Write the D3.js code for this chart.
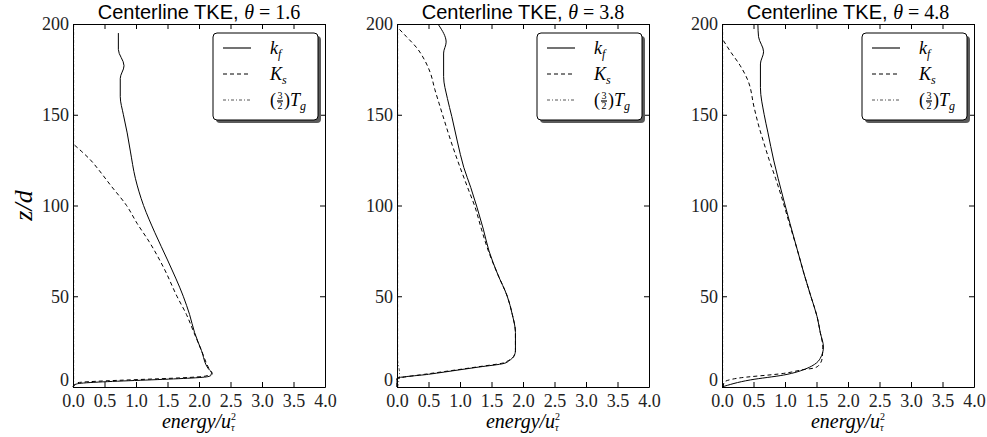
<!DOCTYPE html>
<head>
<meta charset="utf-8" />
<style>
  body { margin: 0; background: #fff; }
  svg text { font-family: 'Liberation Serif', 'Times New Roman', serif; }
</style>
</head>
<div id="div_template"></div>
<script src="https://d3js.org/d3.v7.min.js"></script>
<script>
  // values, as [energy/u_tau^2, z/d]
  const thetas = [1.6, 3.8, 4.8];
  const xTicks = [0, 0.5, 1, 1.5, 2, 2.5, 3, 3.5, 4];
  const yTicks = [0, 50, 100, 150, 200];

  const kf16 = [[0, 0], [0.06, 1.7], [2.14, 5.7], [2.19, 6.4], [2.21, 7.5], [2.15, 10], [2.04, 20], [1.93, 30],
    [1.85, 40], [1.75, 50], [1.5, 70], [1.3, 85], [1.12, 100], [0.99, 115], [0.91, 130], [0.86, 140],
    [0.8, 150], [0.75, 160], [0.75, 170], [0.81, 177], [0.72, 186], [0.72, 195]];
  const ks16 = [[0, 0], [0.05, 2.2], [2.1, 6.0], [2.2, 7.6], [2.16, 10], [2.04, 20], [1.92, 30], [1.8, 40],
    [1.65, 50], [1.45, 65], [1.21, 80], [1.02, 90], [0.85, 100], [0.6, 111], [0.4, 120], [0.28, 125],
    [0.13, 130], [0, 134]];
  const tg16 = [[0.01, 0], [0.01, 50], [0.01, 100], [0.01, 150], [0.01, 200]];

  const kf38 = [[0, 0], [0, 4.8], [0.5, 7], [1.0, 9.5], [1.3, 11], [1.7, 13], [1.78, 14.5], [1.85, 16.7],
    [1.88, 20], [1.88, 30], [1.83, 40], [1.75, 50], [1.6, 62], [1.46, 75], [1.37, 87], [1.27, 99],
    [1.17, 110], [1.06, 121], [0.96, 135], [0.87, 149], [0.8, 159], [0.74, 171], [0.74, 184],
    [0.78, 190], [0.66, 199.5]];
  const ks38 = [[0, 0], [0, 4.5], [0.05, 5], [0.5, 7.3], [1.02, 9.8], [1.3, 11.2], [1.68, 13.2], [1.77, 14.6],
    [1.85, 16.7], [1.88, 20], [1.88, 30], [1.83, 40], [1.75, 50], [1.6, 62], [1.45, 75], [1.34, 87],
    [1.24, 99], [1.12, 110], [0.97, 124], [0.86, 135], [0.75, 147], [0.67, 156], [0.6, 164], [0.53, 173],
    [0.44, 180], [0.32, 186.6], [0.15, 193], [0.04, 197]];
  const tg38 = [[0.01, 0], [0.04, 8], [0.01, 15], [0.01, 100], [0.01, 200]];

  const kf48 = [[0, 0], [0.45, 3.9], [0.98, 6.6], [1.35, 10.3], [1.47, 12.5], [1.56, 15.8], [1.61, 22],
    [1.56, 30], [1.51, 38.7], [1.41, 50], [1.3, 62.6], [1.2, 75], [1.08, 90], [0.98, 103], [0.89, 115],
    [0.82, 125], [0.73, 140], [0.67, 150], [0.61, 165], [0.61, 178], [0.66, 184.7], [0.58, 193], [0.57, 199.5]];
  const ks48 = [[0.02, 0], [0.03, 2.4], [0.24, 4.8], [0.98, 7.5], [1.3, 9.6], [1.47, 10.5], [1.55, 12.5],
    [1.59, 16], [1.6, 22], [1.56, 30], [1.51, 38.7], [1.41, 50], [1.3, 62.6], [1.2, 75], [1.07, 90],
    [0.96, 103], [0.85, 115], [0.75, 125], [0.66, 135], [0.59, 143], [0.51, 154], [0.41, 169],
    [0.29, 177], [0.13, 185], [0.02, 191]];
  const tg48 = [[0.01, 0], [0.01, 50], [0.01, 100], [0.01, 150], [0.01, 200]];

  const panels = [
    { theta: thetas[0], kf: kf16, ks: ks16, tg: tg16, left: 73, ylabel: true },
    { theta: thetas[1], kf: kf38, ks: ks38, tg: tg38, left: 397 },
    { theta: thetas[2], kf: kf48, ks: ks48, tg: tg48, left: 722 },
  ];

  var width = 987, height = 437;
  var plotW = 252, plotH = 363, plotTop = 24;
  var svg = d3.select('#div_template').append('svg')
    .attr('width', width)
    .attr('height', height);

  var xScale = d3.scaleLinear().domain([0, 4]).range([0, plotW]);
  var yScale = d3.scaleLinear().domain([0, 200]).range([plotH, 0]);

  const line = d3.line()
    .x((d) => xScale(d[0]))
    .y((d) => yScale(d[1]))
    .curve(d3.curveMonotoneY);

  const styles = {
    kf: { stroke: '#000', dash: null },
    ks: { stroke: '#000', dash: '4,3' },
    tg: { stroke: '#555', dash: '3,2,1,2' },
  };

  function styleAxis(g, labels) {
    g.select('.domain').attr('stroke', '#000');
    g.selectAll('.tick line').attr('stroke', '#000');
    g.selectAll('.tick text')
      .attr('fill', '#222')
      .attr('font-size', labels ? '18px' : 0);
  }

  function legendLabel(t, key) {
    t.attr('font-size', '18px').attr('font-style', 'italic');
    if (key === 'kf') {
      t.append('tspan').text('k');
      t.append('tspan').attr('font-size', '12px').attr('dy', 4).text('f');
    } else if (key === 'ks') {
      t.append('tspan').text('K');
      t.append('tspan').attr('font-size', '12px').attr('dy', 4).text('s');
    }
  }

  panels.forEach((p) => {
    const g = svg.append('g')
      .attr('transform', 'translate(' + p.left + ',' + plotTop + ')');

    ['tg', 'ks', 'kf'].forEach((key) => {
      g.append('path')
        .datum(p[key])
        .attr('d', line)
        .attr('fill', 'none')
        .attr('stroke', styles[key].stroke)
        .attr('stroke-width', 1)
        .attr('stroke-dasharray', styles[key].dash);
    });

    // axes, ticks pointing inward on all four sides
    g.append('g')
      .attr('transform', 'translate(0,' + plotH + ')')
      .call(d3.axisBottom(xScale).tickValues(xTicks).tickSizeInner(-5).tickSizeOuter(0)
        .tickPadding(7).tickFormat(d3.format('.1f')))
      .call(styleAxis, true);
    g.append('g')
      .call(d3.axisTop(xScale).tickValues(xTicks).tickSizeInner(-5).tickSizeOuter(0).tickFormat(''))
      .call(styleAxis, false);
    g.append('g')
      .call(d3.axisLeft(yScale).tickValues(yTicks).tickSizeInner(-5).tickSizeOuter(0)
        .tickPadding(4).tickFormat(d3.format('d')))
      .call(styleAxis, true)
      .selectAll('.tick text')
      .filter((d) => d === 0)
      .attr('dy', '-0.07em');
    g.append('g')
      .attr('transform', 'translate(' + plotW + ',0)')
      .call(d3.axisRight(yScale).tickValues(yTicks).tickSizeInner(-5).tickSizeOuter(0).tickFormat(''))
      .call(styleAxis, false);

    // title
    const title = g.append('text')
      .attr('x', plotW / 2)
      .attr('y', -5)
      .attr('text-anchor', 'middle')
      .attr('font-size', '20px')
      .attr('fill', '#000');
    title.append('tspan').style('font-family', "'Liberation Sans', Arial, sans-serif").text('Centerline TKE, ');
    title.append('tspan').attr('font-style', 'italic').text('θ');
    title.append('tspan').text(' = ' + p.theta.toFixed(1));

    // x label
    const xl = g.append('text')
      .attr('x', plotW / 2)
      .attr('y', plotH + 41)
      .attr('text-anchor', 'middle')
      .attr('font-size', '20px')
      .attr('font-style', 'italic');
    xl.append('tspan').text('energy/u');
    xl.append('tspan').attr('font-size', '10px').attr('font-style', 'normal').attr('dy', -8).text('2');
    xl.append('tspan').attr('font-size', '10px').attr('dx', -5).attr('dy', 11).text('τ');

    if (p.ylabel) {
      g.append('text')
        .attr('transform', 'translate(' + (-41) + ',' + (plotH / 2) + ') rotate(-90)')
        .attr('text-anchor', 'middle')
        .attr('font-size', '26px')
        .attr('font-style', 'italic')
        .text('z/d');
    }

    // legend
    const lg = g.append('g')
      .attr('transform', 'translate(' + (plotW - 7 - 105) + ',9)');
    lg.append('rect')
      .attr('x', 3).attr('y', 3).attr('width', 105).attr('height', 87)
      .attr('rx', 4).attr('fill', '#5a5a5a');
    lg.append('rect')
      .attr('width', 105).attr('height', 87)
      .attr('rx', 4).attr('fill', '#fff').attr('stroke', '#000');
    ['kf', 'ks', 'tg'].forEach((key, i) => {
      const ly = 15 + i * 26;
      lg.append('line')
        .attr('x1', 10).attr('x2', 38).attr('y1', ly).attr('y2', ly)
        .attr('stroke', key === 'kf' ? '#444' : styles[key].stroke)
        .attr('stroke-width', key === 'kf' ? 1.5 : 1)
        .attr('stroke-dasharray', styles[key].dash);
      if (key === 'tg') {
        const x0 = 57;
        lg.append('text').attr('x', x0).attr('y', ly + 6).attr('font-size', '18px').text('(');
        lg.append('text').attr('x', x0 + 10).attr('y', ly - 1).attr('text-anchor', 'middle')
          .attr('font-size', '10px').text('3');
        lg.append('text').attr('x', x0 + 10).attr('y', ly + 9).attr('text-anchor', 'middle')
          .attr('font-size', '10px').text('2');
        lg.append('line').attr('x1', x0 + 7).attr('x2', x0 + 13)
          .attr('y1', ly + 1).attr('y2', ly + 1).attr('stroke', '#000').attr('stroke-width', 1.2);
        lg.append('text').attr('x', x0 + 14).attr('y', ly + 6).attr('font-size', '18px').text(')');
        const tt = lg.append('text').attr('x', x0 + 20).attr('y', ly + 6)
          .attr('font-size', '18px').attr('font-style', 'italic');
        tt.append('tspan').text('T');
        tt.append('tspan').attr('font-size', '12px').attr('dy', 4).text('g');
      } else {
        lg.append('text').attr('x', 57).attr('y', ly + 6).call(legendLabel, key);
      }
    });
  });
</script>
